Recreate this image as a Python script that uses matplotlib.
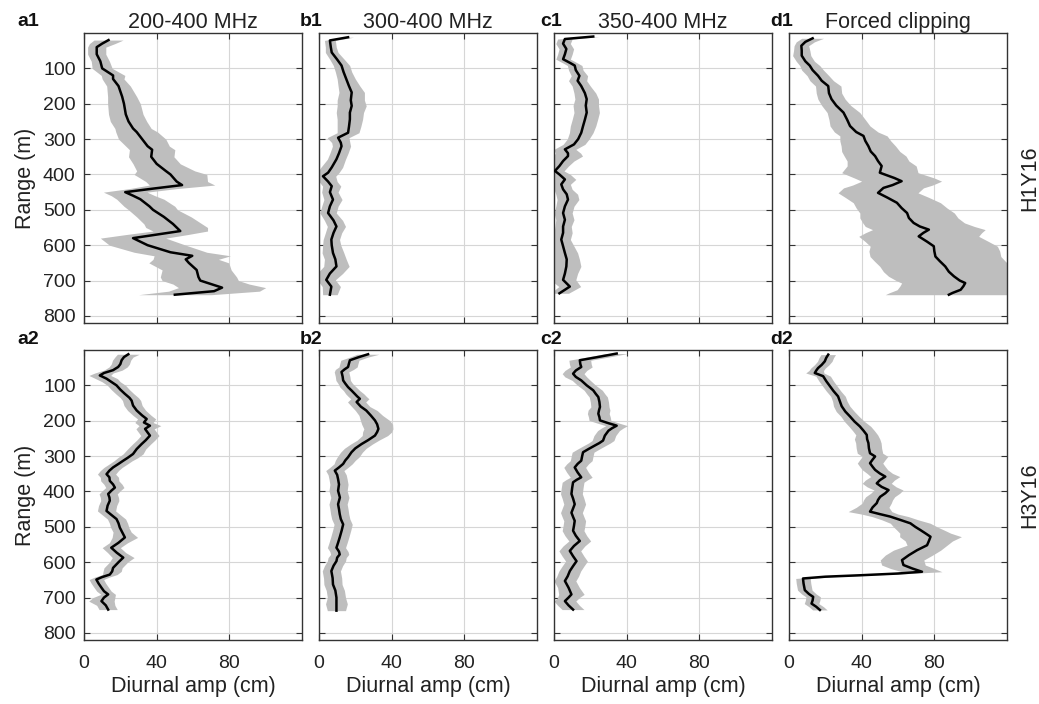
import numpy as np
import matplotlib
matplotlib.use("Agg")
import matplotlib.pyplot as plt

plt.rcParams["font.family"] = ["Liberation Sans", "DejaVu Sans"]

# ---- data: range (m), mean diurnal amplitude (cm), half-width of shaded band (cm)
a1_rng = [20, 30, 40, 60, 80, 100, 120, 130, 150, 180, 200, 230, 250, 270, 280, 300, 320, 330, 350, 370,
          390, 400, 420, 430, 440, 450, 460, 470, 490, 500, 520, 540, 550, 560, 570, 580, 600, 620, 630,
          640, 650, 670, 690, 700, 710, 720, 730, 740]
a1_amp = [13.5, 10, 7, 7, 9, 10, 16, 16, 19, 21, 22, 23, 24.5, 27, 29, 32, 35, 37.5, 37, 40,
          45, 47.6, 51, 54, 38, 22.7, 27, 31, 36, 38, 44, 49, 51, 53, 40, 27, 35, 47.6, 59.6,
          56, 57.7, 62, 63, 64, 70, 76, 71.6, 50]
a1_err = [8, 7, 5, 5, 5, 5.5, 6.5, 6, 6.5, 8, 9, 9.5, 10, 10, 11.5, 13, 12, 12.5, 12.5, 13,
          16, 20, 17, 18, 13, 12, 12, 13, 14, 13.5, 15, 16, 17, 15, 17, 18, 21, 20, 21,
          18, 22, 19, 21, 21, 21, 24, 25, 20]

b1_rng = [12, 21, 40, 55, 75, 92, 110, 130, 150, 168, 190, 206, 225, 244, 265, 282, 296, 310, 320, 340,
          357, 380, 395, 405, 420, 433, 450, 471, 490, 509, 530, 547, 565, 584, 600, 622, 640, 660, 680,
          698, 717, 740]
b1_amp = [16, 6, 6.5, 7, 10, 12.4, 13.5, 15, 16.5, 18, 17.5, 18, 17, 17, 16.5, 16, 10.5, 12, 12.4, 11,
          9.6, 7, 5, 2.2, 5, 7, 6, 7.7, 6, 5, 8, 9.6, 8, 6.8, 7, 7.7, 9, 9.6, 6,
          4, 6.8, 6]
b1_err = [3, 3, 3, 3.5, 4, 4.5, 4.5, 5, 6, 7, 7.5, 8, 7.5, 7, 6.5, 6, 6, 5, 5, 5,
          5, 6, 6, 7, 5, 5, 4.5, 5, 4.5, 4.5, 5, 5, 4.5, 4.5, 5, 6, 6, 7, 7,
          5, 5, 4]

c1_rng = [10, 17, 30, 45, 60, 74, 85, 92, 105, 121, 135, 150, 170, 187, 205, 225, 245, 263, 282, 300,
          315, 329, 340, 348, 362, 376, 390, 400, 414, 428, 442, 456, 471, 490, 509, 528, 547, 565, 584,
          603, 622, 640, 660, 680, 698, 717, 736]
c1_amp = [21.6, 6, 5, 6.8, 6, 5, 9, 11.4, 12, 14, 13, 15, 17, 18, 17.5, 18, 17, 16, 15, 13.3,
          11, 6, 7.7, 7.7, 5, 3, 0.5, 3, 6, 4, 5, 7, 7.7, 6, 5, 6, 5, 5, 4,
          5, 6, 7, 6.8, 6, 5, 8.7, 3]
c1_err = [3, 4, 4, 4, 4, 4, 4, 4, 4, 4.5, 5, 5, 6, 6.5, 7, 7, 7, 7, 6.5, 6,
          6, 6, 7, 8, 6, 5, 5, 6, 6, 5, 5, 6, 6, 5, 5, 5, 4.5, 5, 5,
          6, 7, 7, 8, 7, 7, 6, 5]

d1_rng = [15, 25, 36, 50, 64, 80, 92, 105, 121, 135, 150, 170, 187, 205, 225, 245, 263, 280, 291, 305,
          320, 335, 348, 362, 376, 395, 410, 419, 430, 438, 452, 465, 480, 495, 509, 523, 537, 547, 556,
          565, 575, 590, 603, 617, 632, 645, 660, 675, 688, 700, 707, 716, 726, 735, 740]
d1_amp = [13, 9, 6.8, 7, 7, 9, 11.4, 13, 16, 18, 21.6, 22, 23.4, 26, 30, 32, 33.6, 37, 41, 42,
          43.7, 45, 47.4, 49, 51, 50, 58, 62, 57, 52, 49, 54, 59.4, 62, 65, 66, 68.6, 72, 77,
          74, 71.4, 76, 79.7, 80, 80.6, 83, 86, 88, 90.8, 94, 97, 96, 94.5, 90, 88]
d1_err = [6, 5, 4, 4.5, 5, 5, 5.5, 6, 6, 6.5, 7, 7, 7.5, 8, 9, 10, 11, 12, 13, 14,
          15, 16, 17, 17, 19, 21, 22, 22, 22, 22, 22, 23, 24, 25, 26, 27, 28, 30, 31,
          32, 33, 34, 35, 36, 36, 36, 36, 36, 36, 35, 35, 35, 35, 35, 35]

a2_rng = [12, 20, 29, 40, 48, 57, 65, 72, 81, 90, 100, 112, 124, 135, 143, 157, 171, 185, 195, 205,
          214, 223, 233, 242, 255, 266, 280, 294, 305, 313, 322, 332, 341, 351, 360, 370, 380, 389, 398,
          407, 417, 426, 440, 455, 466, 478, 490, 502, 515, 530, 545, 559, 573, 587, 600, 616, 626, 635,
          642, 649, 660, 672, 682, 691, 700, 710, 722, 734]
a2_amp = [24.4, 22, 20.7, 20, 18.8, 16, 11, 8.7, 12.4, 15, 17.9, 20, 22.5, 25, 26.2, 27, 29, 32, 34.5, 33,
          36.3, 33.6, 35, 36.3, 34, 31.7, 29, 27, 24, 21.6, 19, 16, 14, 12.4, 14, 14.2, 16, 17, 15,
          13.3, 14, 14.2, 13, 12.4, 15, 17.9, 19, 19.7, 21, 22.5, 19, 15, 18, 21.6, 19, 16, 15.5, 14.2,
          10, 6.8, 8, 9.6, 11, 13.3, 11, 9.6, 12, 13.3]
a2_err = [6, 5, 5, 5, 5, 5, 5, 6, 6, 5, 5, 5, 5, 5, 5, 5, 5, 5, 5, 5,
          6, 5, 5, 5, 5, 5, 5, 5.5, 5.5, 5, 5, 5, 5, 5, 5, 5, 5, 5, 5,
          5, 5, 5, 5, 5, 5, 5, 5, 5, 5, 7, 5, 5, 5, 6, 5, 5, 5, 4,
          4, 4, 4, 4, 4, 4, 6, 7, 5, 5]

b2_rng = [12, 20, 29, 38, 48, 55, 62, 75, 86, 95, 105, 115, 124, 131, 138, 147, 160, 171, 185, 199,
          210, 223, 232, 242, 255, 266, 278, 289, 303, 312, 322, 332, 341, 353, 365, 380, 398, 417, 436,
          450, 464, 478, 493, 510, 530, 545, 559, 570, 578, 587, 597, 610, 625, 645, 663, 680, 700, 718, 737]
b2_amp = [27, 22, 17, 16.5, 16, 14, 12.4, 13, 13.3, 14.5, 16, 18, 19.7, 21, 22.5, 20.7, 23, 26, 28.5, 30.8,
          32, 32.7, 32, 30.8, 27, 23.4, 20, 17.9, 16, 14.5, 13.3, 11, 8.7, 10, 10.5, 11, 10.5, 11.5, 10.5,
          11, 11.4, 12, 13.3, 12.5, 11.4, 10.5, 9.6, 11, 11.4, 10, 9.6, 8, 6.8, 7.5, 7.7, 9, 9.6, 9.6, 9.6]
b2_err = [6, 5, 5, 5, 5, 5, 4, 4, 4, 4, 4.5, 4.5, 5, 5, 5, 5, 5, 6, 6.5, 8,
          8.5, 8, 8, 7, 6, 6, 6, 6, 6, 5.5, 5, 5, 5, 5, 5, 5, 5, 5, 5,
          5, 5, 5, 5, 5, 5, 5, 5, 5, 5, 5, 5, 5, 5, 5, 5, 5, 5, 6, 5]

c2_rng = [10, 20, 29, 40, 48, 58, 67, 76, 86, 100, 114, 124, 133, 147, 161, 170, 180, 190, 199, 207,
          214, 221, 228, 242, 256, 263, 270, 280, 289, 300, 313, 322, 332, 346, 360, 367, 374, 390, 407,
          420, 436, 448, 460, 472, 483, 497, 511, 525, 540, 554, 568, 583, 597, 611, 625, 640, 653, 672,
          691, 700, 710, 722, 734]
c2_amp = [34.5, 24, 14.2, 14.5, 15, 12, 10.5, 12, 15, 18, 21.6, 23, 24.4, 25, 25.3, 24.8, 24.4, 25, 25.3, 30,
          34.5, 32, 30, 28, 27, 25, 22.5, 19, 16, 15.5, 15, 13, 11.4, 13, 15, 12.5, 10.5, 10, 9.6,
          10.5, 11.4, 10.5, 9.6, 10.5, 11.4, 11, 10.5, 12, 14.2, 11, 8.7, 10.5, 12.4, 10.5, 8.7, 7.5, 6, 8,
          9.6, 8, 6, 8, 10.5]
c2_err = [6, 6, 6, 6, 6, 6, 6, 6, 5, 5, 5, 5, 5, 5, 5, 6, 6, 6, 6, 6,
          6, 6, 6, 6, 6, 6, 6, 6, 6, 6, 6, 6, 6, 6, 6, 6, 6, 6, 6,
          6, 6, 6, 6, 6, 6, 6, 6, 6, 6, 6, 6, 6, 6, 6, 6, 6, 6, 6,
          7, 6, 6, 6, 6]

d2_rng = [13, 22, 32, 42, 51, 58, 65, 74, 88, 102, 116, 131, 145, 159, 174, 188, 202, 216, 228, 240,
          252, 263, 278, 292, 301, 310, 320, 330, 339, 349, 358, 368, 377, 387, 396, 405, 415, 424, 433,
          445, 457, 464, 471, 480, 490, 500, 509, 518, 528, 540, 552, 566, 580, 594, 608, 618, 627, 632,
          637, 641, 646, 660, 679, 690, 698, 708, 717, 726, 735]
d2_amp = [21.6, 20.5, 19.7, 18, 16, 15, 14.2, 18.8, 20.5, 22.5, 24.5, 27, 28, 29, 31, 33.6, 36, 39, 41, 42.8,
          43, 43.7, 44, 44.6, 47.4, 46, 44.6, 46, 47.4, 50, 53, 50, 48.3, 51, 54.8, 53, 50.2, 49, 48.3,
          46, 44.6, 50, 55.7, 61, 66.8, 69.5, 72.3, 75, 77.9, 77, 76, 70.5, 66, 62.2, 63, 68, 73.2, 60,
          39, 20, 7.7, 8, 8.7, 11, 13.3, 13, 12.4, 15, 17]
d2_err = [4, 4, 4, 4, 4, 4, 5, 4, 4, 4, 4, 4, 4, 4.5, 5, 5, 5.5, 6, 6, 6,
          7, 7, 7, 7, 7, 7, 7, 7, 7, 7, 8, 8, 8, 8, 8, 8, 8, 8, 8,
          9, 12, 10, 10, 10, 11, 12, 13, 14, 17, 13, 11, 13, 13, 12, 12, 12, 11, 6,
          4, 4, 4, 4, 4, 4, 4, 4, 4, 4, 4]

col_titles = ["200-400 MHz", "300-400 MHz", "350-400 MHz", "Forced clipping"]
row_names = ["H1Y16", "H3Y16"]
panel_tags = [["a1", "b1", "c1", "d1"], ["a2", "b2", "c2", "d2"]]
x_ticks = [0, 40, 80]
y_ticks = [100, 200, 300, 400, 500, 600, 700, 800]

panels = [
    [(a1_rng, a1_amp, a1_err), (b1_rng, b1_amp, b1_err), (c1_rng, c1_amp, c1_err), (d1_rng, d1_amp, d1_err)],
    [(a2_rng, a2_amp, a2_err), (b2_rng, b2_amp, b2_err), (c2_rng, c2_amp, c2_err), (d2_rng, d2_amp, d2_err)],
]

W, H = 1039, 704
fig = plt.figure(figsize=(W / 100, H / 100), dpi=100)

col_left = [84, 319, 554, 789]   # pixels
ax_w = 218
row_top = [33, 350]
ax_h = 290
tag_x = [17, 300, 540, 770]
tag_y = [22, 340]
txt = "#222222"

for r in range(2):
    for c in range(4):
        rng, amp, err = (np.asarray(v, dtype=float) for v in panels[r][c])
        ax = fig.add_axes([col_left[c] / W, 1 - (row_top[r] + ax_h) / H, ax_w / W, ax_h / H])
        ax.fill_betweenx(rng, amp - err, amp + err, color="#bebebe", lw=0, zorder=2)
        ax.plot(amp, rng, color="black", lw=1.8, zorder=3)
        ax.set_xlim(0, 120)
        ax.set_ylim(820, 0)
        ax.set_xticks(x_ticks)
        ax.set_yticks(y_ticks)
        ax.grid(True, color="#d6d6d6", lw=0.8, zorder=0)
        ax.set_axisbelow(True)
        ax.tick_params(direction="in", length=4, width=0.8, color="#333333",
                       top=True, right=True, labelsize=14, labelcolor=txt)
        ax.tick_params(axis="x", pad=11)
        ax.tick_params(axis="y", pad=6)
        for s in ax.spines.values():
            s.set_color("#333333")
            s.set_linewidth(1.0)
        if c == 0:
            ax.set_ylabel("Range (m)", fontsize=15.5, color=txt, labelpad=5)
        else:
            ax.set_yticklabels([])
        if r == 1:
            ax.set_xlabel("Diurnal amp (cm)", fontsize=15.5, color=txt, labelpad=3)
        else:
            ax.set_xticklabels([])
        if r == 0:
            ax.set_title(col_titles[c], fontsize=15.5, color=txt, pad=3)
        fig.text(tag_x[c] / W, 1 - tag_y[r] / H, panel_tags[r][c], fontsize=14,
                 fontweight="bold", ha="left", va="center", color="#111111")
    fig.text(1030 / W, 1 - (row_top[r] + ax_h / 2) / H, row_names[r], rotation=90,
             fontsize=15.5, ha="center", va="center", color=txt)

fig.savefig("out.png", dpi=100)
